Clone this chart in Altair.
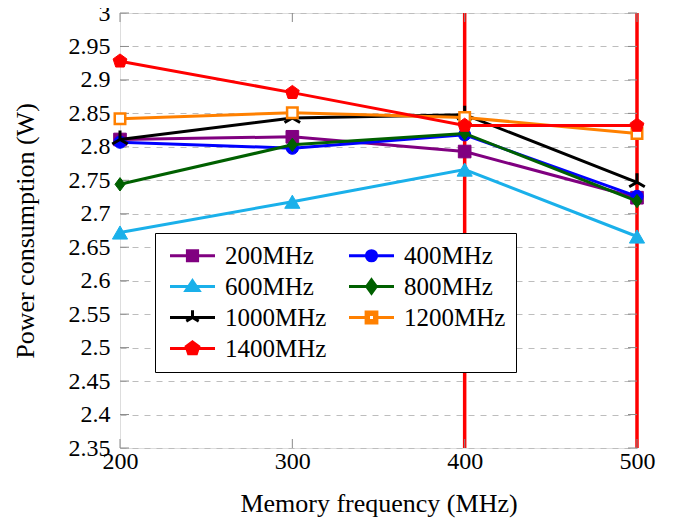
import altair as alt
import pandas as pd

# ---- data ----
mem_freq = [200, 300, 400, 500]
series_names = ["200MHz", "400MHz", "600MHz", "800MHz", "1000MHz", "1200MHz", "1400MHz"]
p200 = [2.811, 2.815, 2.793, 2.724]
p400 = [2.807, 2.798, 2.818, 2.726]
p600 = [2.672, 2.718, 2.766, 2.666]
p800 = [2.744, 2.803, 2.820, 2.719]
p1000 = [2.811, 2.843, 2.848, 2.747]
p1200 = [2.842, 2.851, 2.844, 2.820]
p1400 = [2.928, 2.881, 2.832, 2.832]
all_values = [p200, p400, p600, p800, p1000, p1200, p1400]
marked_freq = [400, 500]
y_ticks = [2.35, 2.4, 2.45, 2.5, 2.55, 2.6, 2.65, 2.7, 2.75, 2.8, 2.85, 2.9, 2.95, 3.0]
x_ticks = [200, 300, 400, 500]

# ---- styles ----
W, H = 517, 435
TICK = 9
colors = ["#800080", "#0000ff", "#1ab0ea", "#006000", "#000000", "#ff8000", "#ff0000"]
pent = "M0,-1L0.951,-0.309L0.588,0.809L-0.588,0.809L-0.951,-0.309Z"
tri = "M0,0V-1M0,0L-0.87,0.5M0,0L0.87,0.5"
diamond = "M0,-1L0.75,0L0,1L-0.75,0Z"
marker_style = [
    dict(shape="square", size=160, filled=True, strokeWidth=1),
    dict(shape="circle", size=150, filled=True, strokeWidth=1),
    dict(shape="triangle-up", size=230, filled=True, strokeWidth=1),
    dict(shape=diamond, size=180, filled=True, strokeWidth=1),
    dict(shape=tri, size=320, filled=False, strokeWidth=3),
    dict(shape="square", size=110, filled=False, strokeWidth=2.5, fill="white"),
    dict(shape=pent, size=210, filled=True, strokeWidth=1),
]
L = "M-3.75,0H3.75"
legend_paths = [
    L + "M-0.85,-0.85H0.85V0.85H-0.85Z",
    L + "M-0.85,0A0.85,0.85 0 1,0 0.85,0A0.85,0.85 0 1,0 -0.85,0Z",
    L + "M0,-0.95L1.08,0.65L-1.08,0.65Z",
    L + "M0,-1.1L0.8,0L0,1.1L-0.8,0Z",
    L + "M0,0V-1.2M0,0L-1.04,0.6M0,0L1.04,0.6",
    "M-3.75,0H-0.9M0.9,0H3.75M-0.9,-0.9H0.9V0.9H-0.9ZM-0.5,-0.5V0.5H0.5V-0.5Z",
    L + "M0,-1.1L1.05,-0.34L0.65,0.89L-0.65,0.89L-1.05,-0.34Z",
]

rows = []
for name, vals in zip(series_names, all_values):
    for f, v in zip(mem_freq, vals):
        rows.append({"freq": f, "power": v, "series": name})
df = pd.DataFrame(rows)
rules_df = pd.DataFrame({"freq": marked_freq})
yt_df = pd.DataFrame({"power": y_ticks})
xt_df = pd.DataFrame({"freq": x_ticks})

FONT = "Liberation Serif"
x_scale = alt.Scale(domain=[200, 500], nice=False, zero=False)
y_scale = alt.Scale(domain=[2.35, 3.0], nice=False, zero=False)
x_axis = alt.Axis(values=x_ticks, title="Memory frequency (MHz)", grid=False,
                  ticks=False, domain=False, labelFlush=False, labelOverlap=False,
                  labelFont=FONT, labelFontSize=24, labelColor="black",
                  labelBaseline="alphabetic", labelPadding=20,
                  titleFont=FONT, titleFontSize=26, titleFontWeight="normal",
                  titleColor="black", titleBaseline="alphabetic",
                  titleX=258.5, titleY=63)
y_axis = alt.Axis(values=y_ticks, format="~g", title="Power consumption (W)",
                  grid=True, gridColor="#bdbdbd", gridDash=[6, 6], gridWidth=1,
                  ticks=False, domain=False, labelFlush=False, labelOverlap=False,
                  labelFont=FONT, labelFontSize=24, labelColor="black",
                  labelPadding=10,
                  titleFont=FONT, titleFontSize=26, titleFontWeight="normal",
                  titleColor="black", titleBaseline="alphabetic",
                  titleX=-87, titleY=217.5)
x_enc = alt.X("freq:Q", scale=x_scale, axis=x_axis)
y_enc = alt.Y("power:Q", scale=y_scale, axis=y_axis)

TICK_COLOR = "#8a8a8a"
base = alt.Chart(df)
layers = []
# highlighted frequencies
layers.append(alt.Chart(rules_df).mark_rule(color="#ff0000", strokeWidth=3.5).encode(x=x_enc))
# inward tick marks (left/right for y, bottom/top for x)
yt = alt.Chart(yt_df).mark_rule(color=TICK_COLOR, strokeWidth=1)
layers.append(yt.encode(y=y_enc, x=alt.value(0), x2=alt.value(TICK)))
layers.append(yt.encode(y=y_enc, x=alt.value(W - TICK), x2=alt.value(W)))
xt = alt.Chart(xt_df).mark_rule(color=TICK_COLOR, strokeWidth=1)
layers.append(xt.encode(x=x_enc, y=alt.value(H - TICK), y2=alt.value(H)))
layers.append(xt.encode(x=x_enc, y=alt.value(0), y2=alt.value(TICK)))
for name, col, ms in zip(series_names, colors, marker_style):
    sub = base.transform_filter(alt.datum.series == name)
    layers.append(sub.mark_line(color=col, strokeWidth=3).encode(x=x_enc, y=y_enc))
    kw = dict(shape=ms["shape"], size=ms["size"], strokeWidth=ms["strokeWidth"], opacity=1,
              stroke=col)
    if ms["filled"]:
        kw["fill"] = col
    elif ms.get("fill"):
        kw["fill"] = ms["fill"]
    else:
        kw["fillOpacity"] = 0
    layers.append(sub.mark_point(**kw).encode(x=x_enc, y=y_enc))

leg = alt.Legend(title=None, orient="none", legendX=35, legendY=220, columns=2,
                 direction="horizontal",
                 labelFont=FONT, labelFontSize=25, labelColor="black",
                 symbolSize=144, symbolStrokeWidth=3, symbolOffset=15, labelOffset=20,
                 rowPadding=4, columnPadding=16, padding=10,
                 strokeColor="black", fillColor="white", symbolOpacity=1)
legend_layer = base.transform_filter("false").mark_point(filled=True, opacity=1, strokeWidth=3).encode(
    fill=alt.Fill("series:N", scale=alt.Scale(domain=series_names, range=colors), legend=leg),
    stroke=alt.Stroke("series:N", scale=alt.Scale(domain=series_names, range=colors), legend=leg),
    shape=alt.Shape("series:N", scale=alt.Scale(domain=series_names, range=legend_paths), legend=leg),
)
layers.append(legend_layer)

chart = alt.layer(*layers).properties(
    width=W, height=H,
    autosize=alt.AutoSizeParams(type="none"),
    padding={"left": 112, "top": 5, "right": 41, "bottom": 73},
).configure_view(stroke="black", strokeWidth=1).configure(
    background="white", font=FONT
).configure_axis(labelFont=FONT, titleFont=FONT).configure_legend(labelFont=FONT)

chart.save("out.html", embed_options={"renderer": "svg", "actions": False})
